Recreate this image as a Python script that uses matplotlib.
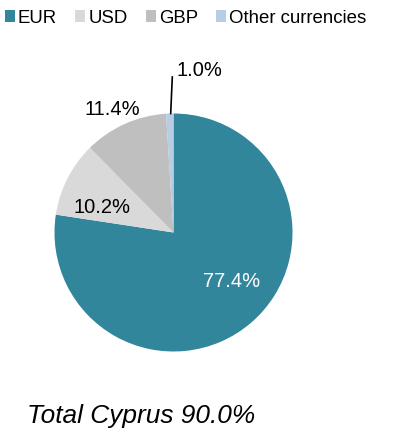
import matplotlib
matplotlib.use("Agg")
import matplotlib.pyplot as plt
from matplotlib.patches import Patch

plt.rcParams['font.family'] = ['Liberation Sans', 'DejaVu Sans']

# Currency composition of deposits
categories = ["EUR", "USD", "GBP", "Other currencies"]
shares = [77.4, 10.2, 11.4, 1.0]
colors = ["#31869B", "#D9D9D9", "#BFBFBF", "#B8CCE4"]
title_text = "Total Cyprus 90.0%"

W, H = 396, 433
fig = plt.figure(figsize=(W / 100, H / 100), dpi=100)

cx, cy, r = 173.5, 232.5, 119.0
ax = fig.add_axes([(cx - r) / W, (H - cy - r) / H, 2 * r / W, 2 * r / H])
wedges, _ = ax.pie(shares, colors=colors, startangle=90, counterclock=False,
                   radius=1.0, wedgeprops=dict(linewidth=0))
ax.set_xlim(-1, 1)
ax.set_ylim(-1, 1)
ax.axis("off")


def px(x, y):
    return (x - cx) / r, (cy - y) / r


# data labels (baseline positions in pixel space)
label_pos = [(231.7, 287.3, "center"), (101.9, 213.0, "center"),
             (111.9, 115.0, "center"), (176.7, 75.7, "left")]
label_colors = ["white", "black", "black", "black"]
for val, (x, y, ha), c in zip(shares, label_pos, label_colors):
    dx, dy = px(x, y)
    ax.text(dx, dy, f"{val:.1f}%", ha=ha, va="baseline", fontsize=14.5,
            color=c, clip_on=False)

# leader line for the small slice
x0, y0 = px(170.7, 113.5)
x1, y1 = px(172.3, 77.0)
ax.plot([x0, x1], [y0, y1], color="black", linewidth=1.2, clip_on=False)

handles = [Patch(facecolor=c, edgecolor="none", label=l)
           for c, l in zip(colors, categories)]
fig.legend(handles=handles, loc="upper left",
           bbox_to_anchor=(0.0, 1.0 - 5 / H),
           ncol=4, frameon=False, fontsize=13.4, handlelength=0.55,
           handleheight=0.55, handletextpad=0.16, columnspacing=0.97,
           borderpad=0.25, borderaxespad=0.0)

fig.text(27 / W, (H - 423) / H, title_text, fontsize=18.9, style="italic",
         ha="left", va="baseline")

fig.savefig("out.png", dpi=100)
